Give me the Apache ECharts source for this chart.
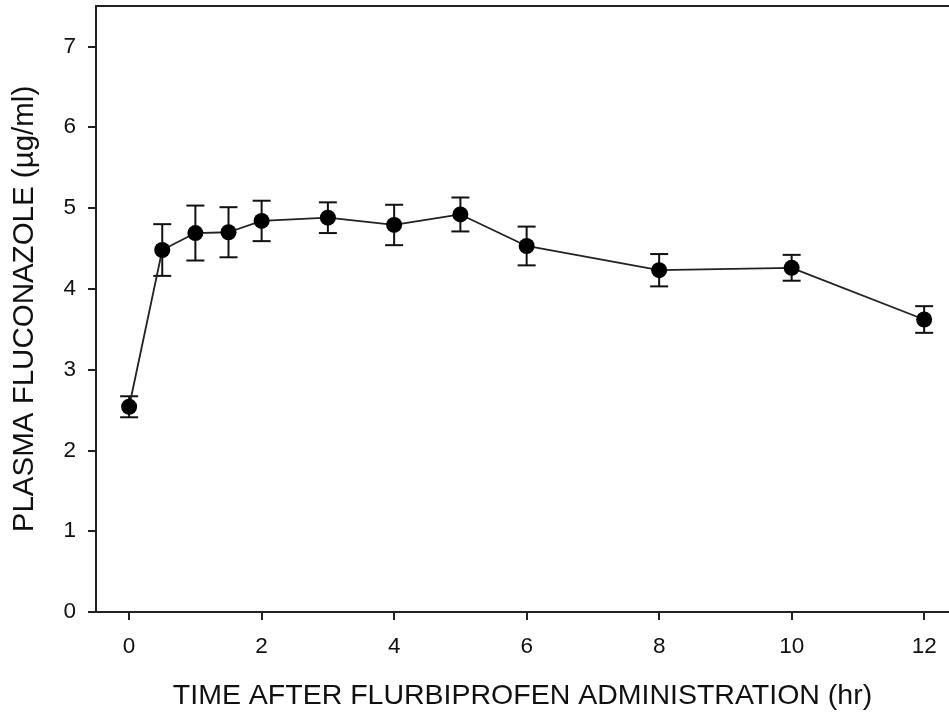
<!DOCTYPE html>
<html><head><meta charset="utf-8">
<script src="https://cdn.jsdelivr.net/npm/echarts@6/dist/echarts.min.js"></script>
<style>html,body{margin:0;padding:0;background:#fff}#c{width:949px;height:719px}</style>
</head><body><div id="c"></div>
<script>
const times = [0, 0.5, 1, 1.5, 2, 3, 4, 5, 6, 8, 10, 12];
const means = [2.54, 4.48, 4.69, 4.70, 4.84, 4.88, 4.79, 4.92, 4.53, 4.23, 4.26, 3.62];
const sems  = [0.13, 0.32, 0.34, 0.31, 0.25, 0.19, 0.25, 0.21, 0.24, 0.20, 0.16, 0.165];
const xTicks = [0, 2, 4, 6, 8, 10, 12];
const yTicks = [0, 1, 2, 3, 4, 5, 6, 7];
const xTitle = 'TIME AFTER FLURBIPROFEN ADMINISTRATION (hr)';
const yTitle = 'PLASMA FLUCONAZOLE (\u00b5g/ml)';

const pts = times.map((t, i) => [t, means[i]]);
const errs = times.map((t, i) => [t, means[i] - sems[i], means[i] + sems[i]]);

const chart = echarts.init(document.getElementById('c'));
const font = 'Liberation Sans, Arial, sans-serif';
const axisCol = '#222';
chart.setOption({
  animation: false,
  grid: { left: 96, top: 6, right: 0, height: 606, show: false, containLabel: false },
  xAxis: [{
    type: 'value', min: -0.5, max: 12.375,
    axisLine: { show: true, onZero: false, lineStyle: { color: axisCol, width: 2 } },
    axisTick: { show: true, length: 8, customValues: xTicks, lineStyle: { color: axisCol, width: 2 } },
    axisLabel: { customValues: xTicks, color: '#111', fontSize: 22.5, fontFamily: font, margin: 23 },
    splitLine: { show: false },
    name: xTitle, nameLocation: 'middle', nameGap: 70,
    nameTextStyle: { color: '#111', fontSize: 28.5, fontFamily: font }
  }, {
    type: 'value', min: -0.5, max: 12.375, position: 'top',
    axisLine: { show: true, onZero: false, lineStyle: { color: axisCol, width: 2 } },
    axisTick: { show: false }, axisLabel: { show: false }, splitLine: { show: false }
  }],
  yAxis: {
    type: 'value', min: 0, max: 7.5,
    axisLine: { show: true, onZero: false, lineStyle: { color: axisCol, width: 2 } },
    axisTick: { show: true, length: 8, customValues: yTicks, lineStyle: { color: axisCol, width: 2 } },
    axisLabel: { customValues: yTicks, color: '#111', fontSize: 22.5, fontFamily: font, margin: 20 },
    splitLine: { show: false },
    name: yTitle, nameLocation: 'middle', nameGap: 56, nameRotate: 90,
    nameTextStyle: { color: '#111', fontSize: 29.5, fontFamily: font }
  },
  series: [
    {
      type: 'custom',
      data: errs,
      z: 3,
      renderItem: function (params, api) {
        const x = api.value(0);
        const lo = api.coord([x, api.value(1)]);
        const hi = api.coord([x, api.value(2)]);
        const hw = 9;
        const st = { stroke: '#111', lineWidth: 2 };
        return { type: 'group', children: [
          { type: 'line', shape: { x1: lo[0], y1: lo[1], x2: hi[0], y2: hi[1] }, style: st },
          { type: 'line', shape: { x1: lo[0] - hw, y1: lo[1], x2: lo[0] + hw, y2: lo[1] }, style: st },
          { type: 'line', shape: { x1: hi[0] - hw, y1: hi[1], x2: hi[0] + hw, y2: hi[1] }, style: st }
        ] };
      }
    },
    {
      type: 'line',
      data: pts,
      z: 4,
      symbol: 'circle', symbolSize: 16,
      lineStyle: { color: '#222', width: 1.8 },
      itemStyle: { color: '#000', borderWidth: 0 }
    }
  ]
});
</script>
</body></html>
